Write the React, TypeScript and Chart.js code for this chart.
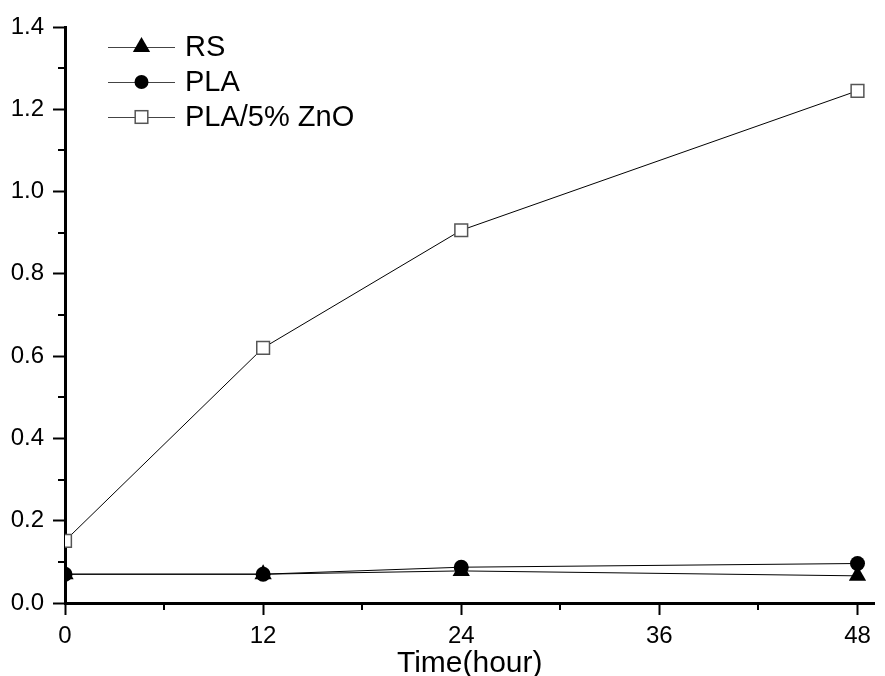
import React, { useEffect, useRef } from 'react';
import { Chart, registerables } from 'chart.js';

Chart.register(...registerables);

// ---- data ----
const timePoints = [0, 12, 24, 48];
const rsValues = [0.07, 0.07, 0.078, 0.066];
const plaValues = [0.07, 0.07, 0.087, 0.096];
const znoValues = [0.151, 0.62, 0.906, 1.245];
const seriesNames = ['RS', 'PLA', 'PLA/5% ZnO'];
const xTickValues = [0, 12, 24, 36, 48];
const xMinorTicks = [6, 18, 30, 42];
const yTickValues = [0, 0.2, 0.4, 0.6, 0.8, 1.0, 1.2, 1.4];
const yMinorTicks = [0.1, 0.3, 0.5, 0.7, 0.9, 1.1, 1.3];
const xTitle = 'Time(hour)';

const FONT = "'Liberation Sans', Arial, Helvetica, sans-serif";

const minorTicksPlugin = {
  id: 'minorTicks',
  afterDraw(chart: any) {
    const ctx = chart.ctx;
    const xs = chart.scales.x;
    const ys = chart.scales.y;
    const area = chart.chartArea;
    ctx.save();
    ctx.strokeStyle = '#000';
    ctx.lineWidth = 2;
    ctx.beginPath();
    for (const v of yMinorTicks) {
      const y = Math.round(ys.getPixelForValue(v));
      ctx.moveTo(area.left - 7, y);
      ctx.lineTo(area.left, y);
    }
    for (const v of xMinorTicks) {
      const x = Math.round(xs.getPixelForValue(v));
      ctx.moveTo(x, area.bottom);
      ctx.lineTo(x, area.bottom + 7);
    }
    ctx.stroke();
    ctx.restore();
  },
};

function drawMarker(ctx: CanvasRenderingContext2D, kind: string, x: number, y: number) {
  ctx.save();
  if (kind === 'triangle') {
    const r = 10;
    ctx.beginPath();
    ctx.moveTo(x, y - r);
    ctx.lineTo(x + r * 0.866, y + r * 0.5);
    ctx.lineTo(x - r * 0.866, y + r * 0.5);
    ctx.closePath();
    ctx.fillStyle = '#000';
    ctx.fill();
  } else if (kind === 'circle') {
    ctx.beginPath();
    ctx.arc(x, y, 7, 0, Math.PI * 2);
    ctx.fillStyle = '#000';
    ctx.fill();
  } else {
    const h = 6.3;
    ctx.fillStyle = '#fff';
    ctx.fillRect(x - h, y - h, 2 * h, 2 * h);
    ctx.strokeStyle = '#555';
    ctx.lineWidth = 1.5;
    ctx.strokeRect(x - h, y - h, 2 * h, 2 * h);
  }
  ctx.restore();
}

const customLegendPlugin = {
  id: 'customLegend',
  afterDraw(chart: any) {
    const ctx = chart.ctx as CanvasRenderingContext2D;
    const kinds = ['triangle', 'circle', 'rect'];
    const x0 = 108;
    const x1 = 175;
    const textX = 185;
    const y0 = 47;
    const step = 35;
    ctx.save();
    seriesNames.forEach((name, i) => {
      const y = y0 + i * step;
      ctx.beginPath();
      ctx.strokeStyle = '#444';
      ctx.lineWidth = 1;
      ctx.moveTo(x0, y + 0.5);
      ctx.lineTo(x1, y + 0.5);
      ctx.stroke();
      drawMarker(ctx, kinds[i], (x0 + x1) / 2, y);
      ctx.fillStyle = '#000';
      ctx.font = `29px ${FONT}`;
      ctx.textBaseline = 'middle';
      ctx.textAlign = 'left';
      ctx.fillText(name, textX, y + 1);
    });
    ctx.restore();
  },
};

export default function App() {
  const canvasRef = useRef<HTMLCanvasElement | null>(null);

  useEffect(() => {
    if (!canvasRef.current) return;
    const toPts = (vals: number[]) => vals.map((v, i) => ({ x: timePoints[i], y: v }));
    const chart = new Chart(canvasRef.current, {
      type: 'line',
      data: {
        datasets: [
          {
            label: seriesNames[2],
            data: toPts(znoValues),
            borderColor: '#000',
            borderWidth: 1,
            pointStyle: 'rect',
            pointRadius: 9,
            pointBackgroundColor: '#fff',
            pointBorderColor: '#555',
            pointBorderWidth: 1.5,
            tension: 0,
            order: 3,
          },
          {
            label: seriesNames[0],
            data: toPts(rsValues),
            borderColor: '#000',
            borderWidth: 1,
            pointStyle: 'triangle',
            pointRadius: 10,
            pointBackgroundColor: '#000',
            pointBorderColor: '#000',
            pointBorderWidth: 0,
            tension: 0,
            order: 2,
          },
          {
            label: seriesNames[1],
            data: toPts(plaValues),
            borderColor: '#000',
            borderWidth: 1,
            pointStyle: 'circle',
            pointRadius: 7.5,
            pointBackgroundColor: '#000',
            pointBorderColor: '#000',
            pointBorderWidth: 0,
            tension: 0,
            order: 1,
          },
        ],
      },
      options: {
        animation: false,
        responsive: false,
        devicePixelRatio: 1,
        layout: { padding: { top: 27, right: 10, left: 0, bottom: 0 } },
        plugins: {
          legend: { display: false },
          tooltip: { enabled: false },
        },
        scales: {
          x: {
            type: 'linear',
            min: 0,
            max: 49.03,
            afterBuildTicks: (s: any) => {
              s.ticks = xTickValues.map((v) => ({ value: v }));
            },
            afterFit: (s: any) => {
              s.height = 73;
            },
            grid: {
              drawOnChartArea: false,
              drawTicks: true,
              tickLength: 12,
              tickWidth: 2,
              tickColor: '#000',
            },
            border: { display: true, color: '#000', width: 3 },
            ticks: {
              color: '#000',
              font: { family: FONT, size: 24 },
              padding: 7,
              maxRotation: 0,
              autoSkip: false,
            },
            title: {
              display: true,
              text: xTitle,
              color: '#000',
              font: { family: FONT, size: 30, lineHeight: 0.85 },
              padding: 0,
            },
          },
          y: {
            type: 'linear',
            min: 0,
            max: 1.4,
            afterBuildTicks: (s: any) => {
              s.ticks = yTickValues.map((v) => ({ value: v }));
            },
            afterFit: (s: any) => {
              s.width = 65;
            },
            grid: {
              drawOnChartArea: false,
              drawTicks: true,
              tickLength: 12,
              tickWidth: 2,
              tickColor: '#000',
            },
            border: { display: true, color: '#000', width: 3 },
            ticks: {
              color: '#000',
              font: { family: FONT, size: 24 },
              padding: 9,
              autoSkip: false,
              callback: (v: any) => Number(v).toFixed(1),
            },
          },
        },
      },
      plugins: [minorTicksPlugin, customLegendPlugin],
    } as any);
    return () => chart.destroy();
  }, []);

  return (
    <div style={{ position: 'absolute', left: 0, top: 0, width: 885, height: 676, background: '#fff' }}>
      <canvas ref={canvasRef} width={885} height={676} />
    </div>
  );
}
